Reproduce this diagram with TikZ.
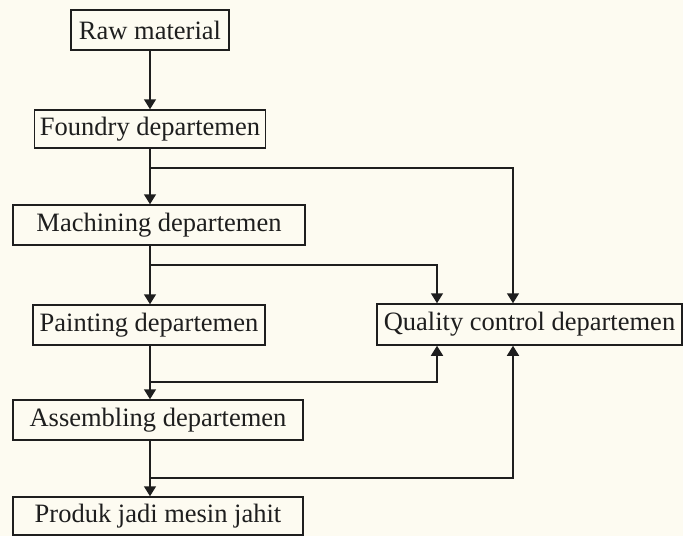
\documentclass[tikz,border=0pt]{standalone}
\usepackage{fontspec}
\setmainfont{Liberation Serif}
\usepackage{tikz}
\usetikzlibrary{arrows.meta}
\definecolor{paper}{RGB}{253, 251, 241}
\definecolor{ink}{RGB}{30, 30, 30}

\begin{document}
\begin{tikzpicture}[x=1pt,y=-1pt,
    dept/.style={draw=ink,line width=1.5pt,rectangle,inner sep=0pt,
                 font=\fontsize{26.5}{30}\selectfont,text=ink},
    flow/.style={draw=ink,line width=1.5pt,-{Triangle[width=12pt,length=10pt]}}]
  \fill[paper] (0,0) rectangle (683,536);
  \useasboundingbox (0,0) rectangle (683,536);
  % departments
  \node[dept,minimum width=158pt,minimum height=40pt] (raw) at (150,30) {Raw material};
  \node[dept,minimum width=231pt,minimum height=38pt] (foundry) at (150,129) {Foundry departemen};
  \node[dept,minimum width=292pt,minimum height=40pt] (machining) at (159,225) {Machining departemen};
  \node[dept,minimum width=232pt,minimum height=40pt] (painting) at (149,325) {Painting departemen};
  \node[dept,minimum width=290pt,minimum height=40pt] (assembling) at (158,420) {Assembling departemen};
  \node[dept,minimum width=290pt,minimum height=38pt] (produk) at (158,516) {Produk jadi mesin jahit};
  \node[dept,minimum width=305pt,minimum height=41pt] (qc) at (529.5,324.5) {Quality control departemen};
  % taps on the main line
  \coordinate (t1) at (150,168);
  \coordinate (t2) at (150,265);
  \coordinate (t3) at (150,382);
  \coordinate (t4) at (150,478);
  \coordinate (qin) at (437,0);
  \coordinate (qout) at (513,0);
  % main flow
  \draw[flow] (raw.south) -- (foundry.north);
  \draw[flow] (foundry.south) -- (foundry.south |- machining.north);
  \draw[flow] (t2 |- machining.south) -- (t2 |- painting.north);
  \draw[flow] (t3 |- painting.south) -- (t3 |- assembling.north);
  \draw[flow] (t4 |- assembling.south) -- (t4 |- produk.north);
  % to quality control
  \draw[flow] (t1) -| (qout |- qc.north);
  \draw[flow] (t2) -| (qin |- qc.north);
  \draw[flow] (t3) -| (qin |- qc.south);
  \draw[flow] (t4) -| (qout |- qc.south);
\end{tikzpicture}
\end{document}
